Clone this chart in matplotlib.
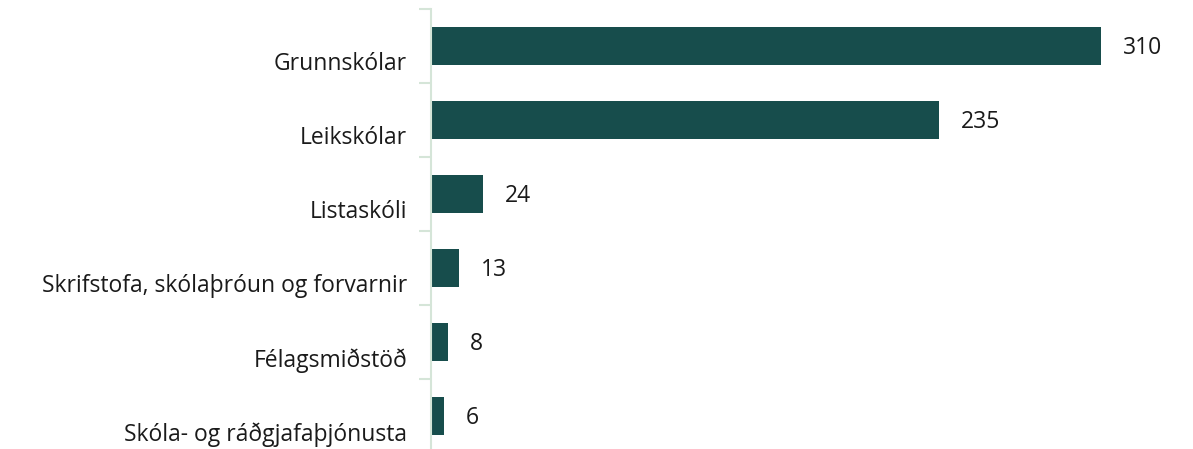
import matplotlib.pyplot as plt
import numpy as np

categories = ['Grunnskólar', 'Leikskólar', 'Listaskóli',
              'Skrifstofa, skólaþróun og forvarnir', 'Félagsmiðstöð',
              'Skóla- og ráðgjafaþjónusta']
values = [310, 235, 24, 13, 8, 6]

plt.rcParams['font.family'] = ['Open Sans', 'DejaVu Sans']

fig = plt.figure(figsize=(11.93, 4.49), dpi=100)
ax = fig.add_axes([431/1193, 1 - 453/449, 762/1193, 444/449])

y = np.arange(len(categories))
ax.barh(y, values, height=0.51, color='#174D4C')
ax.set_ylim(len(categories) - 0.5, -0.5)
ax.set_xlim(0, 762/2.161)

for i, v in enumerate(values):
    ax.text(v + 10, i + 0.03, str(v), va='center', ha='left', fontsize=16.5, color='#1a1a1a')

# category labels sit a bit below the bar centres
for i, c in enumerate(categories):
    ax.text(-11, i + 0.25, c, va='center', ha='right', fontsize=16.5, color='#1a1a1a')

ax.set_yticks(np.arange(len(categories) + 1) - 0.5)
ax.set_yticklabels([])
ax.tick_params(axis='y', length=9, width=1.5, color='#D5E5D8')
ax.set_xticks([])
for s in ['top', 'right', 'bottom']:
    ax.spines[s].set_visible(False)
ax.spines['left'].set_color('#D5E5D8')
ax.spines['left'].set_linewidth(1.5)

fig.savefig('out.png', dpi=100)
